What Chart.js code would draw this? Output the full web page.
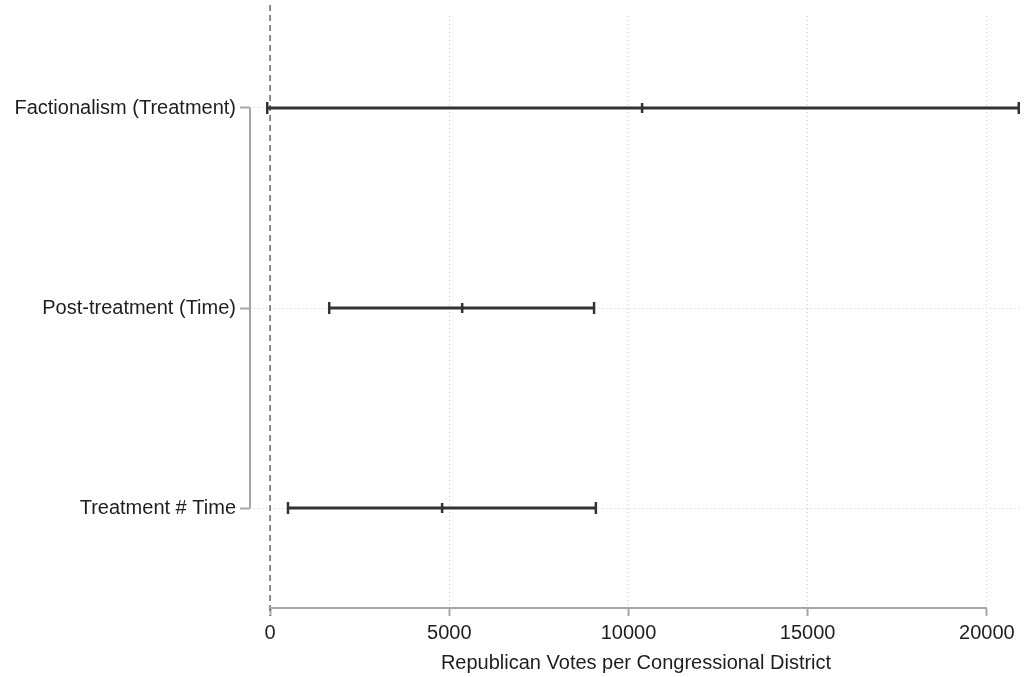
<!DOCTYPE html>
<html>
<head>
<meta charset="utf-8">
<script src="https://cdn.jsdelivr.net/npm/chart.js@4"></script>
<style>
  body { margin: 0; background: #fff; }
  #wrap { width: 1032px; height: 677px; }
</style>
</head>
<body>
<div id="wrap"><canvas id="coefPlot"></canvas></div>
<script>
// coefficient estimates with confidence intervals
const labels = ['Factionalism (Treatment)', 'Post-treatment (Time)', 'Treatment # Time']
const rows = [3, 2, 1]
const estimates = [10380, 5360, 4800]
const lower = [-80, 1650, 500]
const upper = [20890, 9040, 9090]
const xTicks = [0, 5000, 10000, 15000, 20000]

const ink = '#333333'
const axisGray = '#a6a6a6'
const gridGray = '#cfcfcf'
const textColor = '#1e1e1e'
const fontFamily = '"Liberation Sans", Arial, Helvetica, sans-serif'

const datasets = []
labels.forEach((lab, i) => {
  datasets.push({
    type: 'line',
    label: lab,
    data: [{ x: lower[i], y: rows[i] }, { x: upper[i], y: rows[i] }],
    borderColor: ink,
    borderWidth: 3,
    pointStyle: 'line',
    rotation: 90,
    pointRadius: 6,
    pointBorderWidth: 2.5,
    pointBorderColor: ink,
    fill: false
  })
})
datasets.push({
  type: 'scatter',
  label: 'estimate',
  data: estimates.map((v, i) => ({ x: v, y: rows[i] })),
  pointStyle: 'line',
  rotation: 90,
  pointRadius: 5,
  borderWidth: 2.5,
  borderColor: ink
})

// stata-like axis lines that only span the tick range, plus the zero line
const axisLines = {
  id: 'axisLines',
  beforeDatasetsDraw(chart) {
    const { ctx, chartArea, scales } = chart
    const x = scales.x, y = scales.y
    ctx.save()
    // dashed reference line at 0
    ctx.strokeStyle = '#666'
    ctx.lineWidth = 1.5
    ctx.setLineDash([6, 4])
    ctx.beginPath()
    const x0 = x.getPixelForValue(0)
    ctx.moveTo(x0, 5)
    ctx.lineTo(x0, chartArea.bottom + 8)
    ctx.stroke()
    ctx.setLineDash([])
    // x axis line
    ctx.strokeStyle = axisGray
    ctx.lineWidth = 2
    ctx.beginPath()
    ctx.moveTo(x.getPixelForValue(xTicks[0]), chartArea.bottom)
    ctx.lineTo(x.getPixelForValue(xTicks[xTicks.length - 1]), chartArea.bottom)
    ctx.stroke()
    // y axis line
    ctx.beginPath()
    ctx.moveTo(chartArea.left, y.getPixelForValue(rows[0]))
    ctx.lineTo(chartArea.left, y.getPixelForValue(rows[rows.length - 1]))
    ctx.stroke()
    ctx.restore()
  }
}

new Chart(document.getElementById('coefPlot'), {
  data: { datasets },
  options: {
    responsive: true,
    maintainAspectRatio: false,
    animation: false,
    layout: { padding: { top: 7, right: 10, left: 0, bottom: 0 } },
    plugins: { legend: { display: false }, tooltip: { enabled: false } },
    scales: {
      x: {
        type: 'linear',
        min: -560,
        max: 20980,
        afterBuildTicks: (s) => { s.ticks = xTicks.map(v => ({ value: v })) },
        afterFit: (s) => { s.height = 69 },
        border: { display: false, dash: [1, 3] },
        grid: {
          color: (c) => c.tick && c.tick.value === 0 ? 'rgba(0,0,0,0)' : gridGray,
          tickColor: axisGray,
          tickLength: 8,
          lineWidth: 1,
          tickWidth: 2
        },
        ticks: {
          color: textColor,
          padding: 5,
          maxRotation: 0,
          autoSkip: false,
          font: { family: fontFamily, size: 20 },
          callback: (v) => String(v)
        },
        title: {
          display: true,
          text: 'Republican Votes per Congressional District',
          color: textColor,
          font: { family: fontFamily, size: 20 },
          padding: { top: 0, bottom: 2 }
        }
      },
      y: {
        type: 'linear',
        min: 0.5,
        max: 3.46,
        afterBuildTicks: (s) => { s.ticks = rows.map(v => ({ value: v })) },
        afterFit: (s) => { s.width = 250 },
        border: { display: false, dash: [1, 3] },
        grid: {
          color: gridGray,
          tickColor: axisGray,
          tickLength: 10,
          lineWidth: 1,
          tickWidth: 2
        },
        ticks: {
          color: textColor,
          padding: 4,
          font: { family: fontFamily, size: 20 },
          callback: (v) => labels[rows.indexOf(v)]
        }
      }
    }
  },
  plugins: [axisLines]
})
</script>
</body>
</html>
